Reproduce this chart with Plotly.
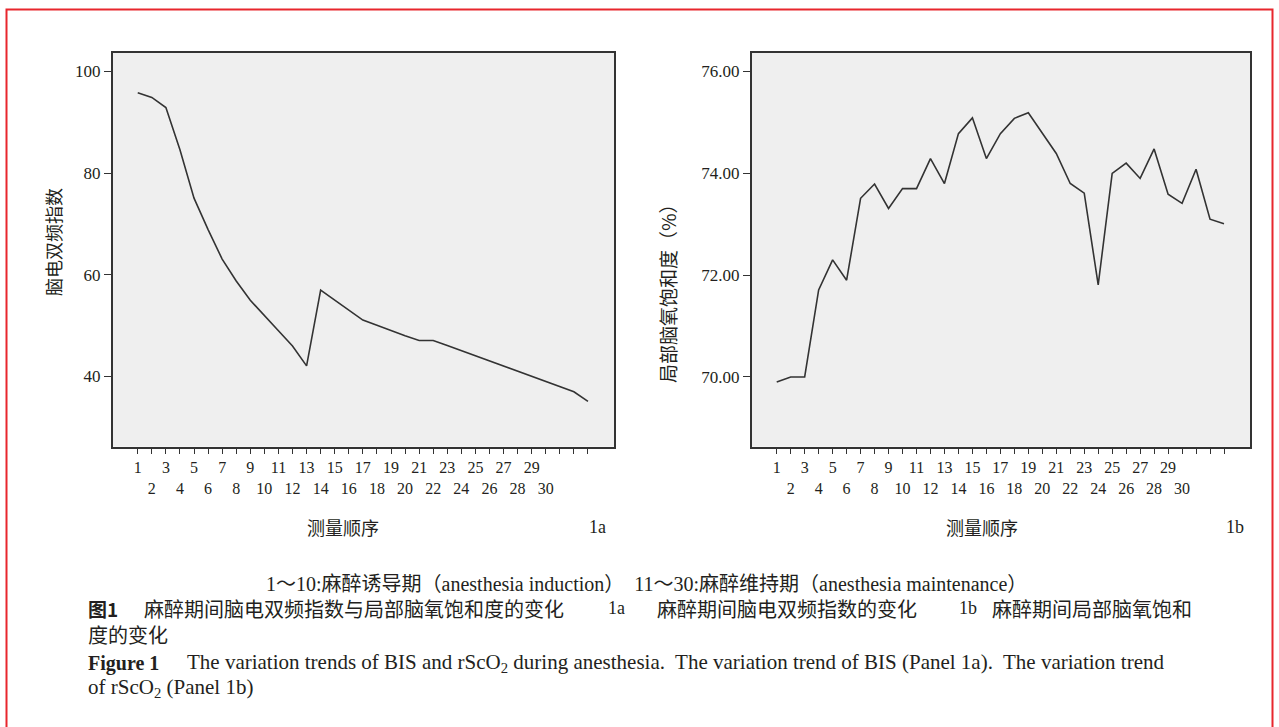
import plotly.graph_objects as go

# ---------------- data ----------------
positions = [1, 2, 3, 4, 5, 6, 7, 8, 9, 10, 11, 12, 13, 14, 15, 16, 17, 18, 19, 20,
             21, 22, 23, 24, 25, 26, 27, 28, 29, 30, 31, 32, 33]
tick_labels = ["1", "2", "3", "4", "5", "6", "7", "8", "9", "10", "11", "12", "13", "14",
               "15", "16", "17", "18", "19", "20", "21", "22", "23", "24", "25", "26",
               "27", "28", "29", "30", "", "", ""]
bis_values = [95.8, 94.9, 92.9, 84.6, 75.1, 68.9, 63.1, 58.8, 55.0, 51.9, 49.0, 46.0,
              42.1, 57.0, 55.0, 53.1, 51.1, 50.1, 49.0, 48.0, 47.1, 47.1, 46.1, 45.1,
              44.1, 43.1, 42.0, 41.0, 40.0, 39.0, 38.0, 37.0, 35.1]
rsco2_values = [69.90, 70.00, 70.00, 71.71, 72.30, 71.90, 73.51, 73.79, 73.31, 73.70,
                73.70, 74.29, 73.80, 74.78, 75.09, 74.29, 74.78, 75.08, 75.19, 74.80,
                74.39, 73.80, 73.61, 71.81, 74.00, 74.20, 73.90, 74.48, 73.59, 73.41,
                74.08, 73.10, 73.01]
bis_ticks = [40, 60, 80, 100]
rsco2_ticks = [70, 72, 74, 76]

# ---------------- styling ----------------
W, H = 1279, 727
SERIF = "Liberation Serif, Noto Sans CJK SC"
CJK = "Noto Sans CJK SC, Liberation Serif"
TXT = "#231f20"
LINE = "#333333"


def px(x):
    return x / W


def py(y):
    return 1 - y / H


# staggered tick text: odd on first row, even on second row
stag_labels = []
for lab in tick_labels:
    if lab and int(lab) % 2 == 0:
        stag_labels.append("<br>" + lab)
    else:
        stag_labels.append(lab)

fig = go.Figure()
fig.add_trace(go.Scatter(x=positions, y=bis_values, mode="lines",
                         line=dict(color=LINE, width=1.6), xaxis="x", yaxis="y",
                         showlegend=False, hoverinfo="x+y"))
fig.add_trace(go.Scatter(x=positions, y=rsco2_values, mode="lines",
                         line=dict(color=LINE, width=1.6), xaxis="x2", yaxis="y2",
                         showlegend=False, hoverinfo="x+y"))

ydom = [py(446.7), py(52.7)]
xcommon = dict(tickmode="array", tickvals=positions, ticktext=stag_labels,
               tickangle=0, ticks="outside", ticklen=5, tickwidth=1.2, tickcolor=LINE,
               showline=True, linecolor=LINE, linewidth=1.6, mirror=True,
               showgrid=False, zeroline=False,
               tickfont=dict(family=SERIF, size=16, color=TXT))
ycommon = dict(tickmode="array", ticks="outside", ticklen=7, tickwidth=1.2,
               tickcolor=LINE, showline=True, linecolor=LINE, linewidth=1.6,
               mirror=True, showgrid=False, zeroline=False,
               tickfont=dict(family=SERIF, size=17, color=TXT))

fig.update_layout(
    width=W, height=H, margin=dict(l=0, r=0, t=0, b=0),
    paper_bgcolor="white", plot_bgcolor="#efefef",
    xaxis=dict(domain=[px(112.7), px(614)], range=[-0.78, 34.85], anchor="y", **xcommon),
    yaxis=dict(domain=ydom, range=[26.2, 103.7], anchor="x", tickvals=bis_ticks,
               ticktext=[str(v) for v in bis_ticks], **ycommon),
    xaxis2=dict(domain=[px(751.7), px(1250)], range=[-0.79, 34.86], anchor="y2", **xcommon),
    yaxis2=dict(domain=ydom, range=[68.63, 76.37], anchor="x2", tickvals=rsco2_ticks,
                ticktext=["%.2f" % v for v in rsco2_ticks], **ycommon),
)

ann = []


def add(text, x, y, size, family=SERIF, xanchor="center", angle=0):
    ann.append(dict(text=text, x=px(x), y=py(y), xref="paper", yref="paper",
                    xanchor=xanchor, yanchor="middle", showarrow=False,
                    textangle=angle, font=dict(family=family, size=size, color=TXT)))


add("脑电双频指数", 53, 242, 18, CJK, angle=-90)
add("局部脑氧饱和度（%）", 667, 289, 19, CJK, angle=-90)
add("测量顺序", 343, 527, 18, CJK)
add("测量顺序", 982, 527, 18, CJK)
add("1a", 597, 527, 18)
add("1b", 1235, 527, 18)
add("1～10:麻醉诱导期（anesthesia induction）　11～30:麻醉维持期（anesthesia maintenance）",
    646, 584, 20)

add("<b>图1</b>", 86, 608, 19, CJK, xanchor="left")
add("麻醉期间脑电双频指数与局部脑氧饱和度的变化", 142, 608, 20, CJK, xanchor="left")
add("1a", 606, 608, 18, xanchor="left")
add("麻醉期间脑电双频指数的变化", 655, 608, 20, CJK, xanchor="left")
add("1b", 957, 608, 18, xanchor="left")
add("麻醉期间局部脑氧饱和", 990, 608, 20, CJK, xanchor="left")
add("度的变化", 86, 634, 20, CJK, xanchor="left")
add("<b>Figure 1</b>", 86, 663, 20, xanchor="left")
add("The variation trends of BIS and rScO<sub>2</sub> during anesthesia.  The variation "
    "trend of BIS (Panel 1a).  The variation trend", 185, 663, 21, xanchor="left")
add("of rScO<sub>2</sub> (Panel 1b)", 86, 688, 21, xanchor="left")

fig.update_layout(annotations=ann)

# red frame around the figure
fig.add_shape(type="rect", xref="paper", yref="paper",
              x0=px(6.5), x1=px(1272.5), y0=-0.1, y1=py(9.5),
              line=dict(color="#e8262d", width=2), fillcolor="rgba(0,0,0,0)", layer="below")

fig.write_html("out.html", config={"displayModeBar": False},
               post_script="document.body.style.margin='0';document.body.style.overflow='hidden';")
